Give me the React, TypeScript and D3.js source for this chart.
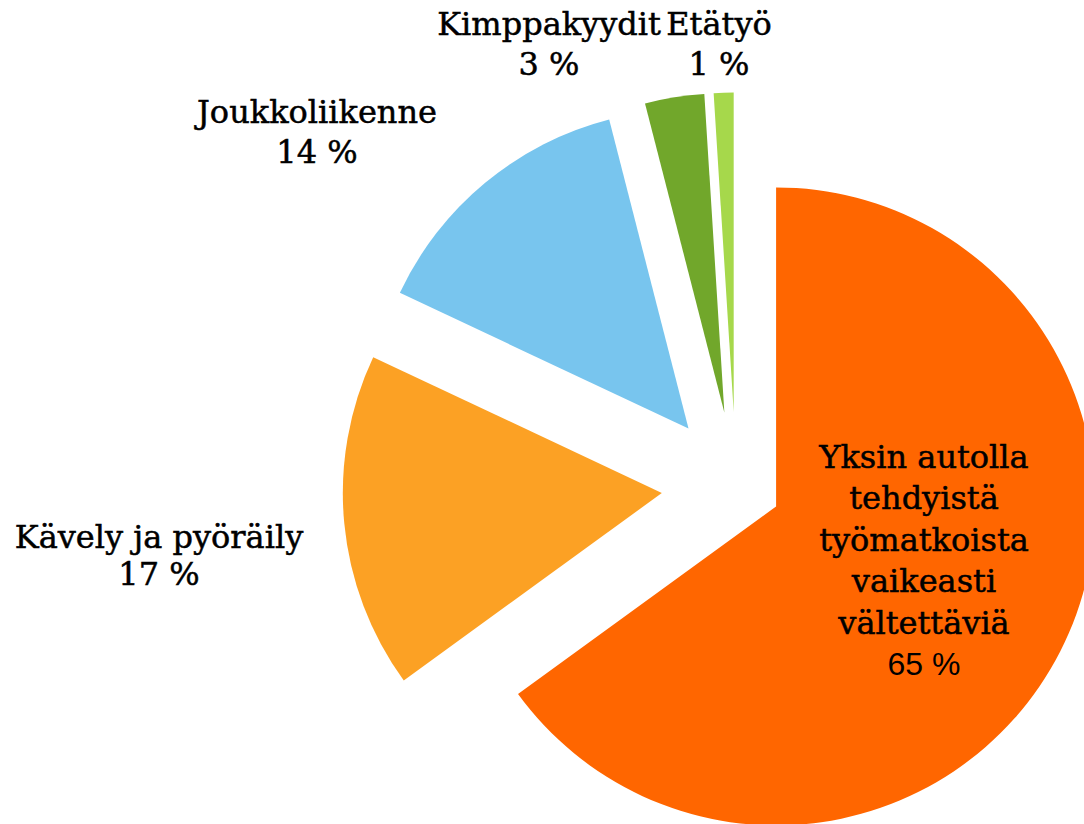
import React, { useRef, useEffect } from 'react';
import * as d3 from 'd3';

// slices, clockwise from 12 o'clock
const categories = ['Yksin autolla tehdyistä työmatkoista vaikeasti vältettäviä', 'Kävely ja pyöräily', 'Joukkoliikenne', 'Kimppakyydit', 'Etätyö'];
const shares = [65, 17, 14, 3, 1];
const labelLines = [
  ['Yksin autolla', 'tehdyistä', 'työmatkoista', 'vaikeasti', 'vältettäviä'],
  ['Kävely ja pyöräily'],
  ['Joukkoliikenne'],
  ['Kimppakyydit'],
  ['Etätyö'],
];

const colors = ['#FF6600', '#FCA124', '#78C5EE', '#71A72B', '#A6D84B'];
const explode = [45, 74.5, 74.5, 74.5, 74.5];
// label centre x, first baseline y, line height
const labelPos = [
  [924, 468, 41.4],
  [159, 548, 37],
  [317, 123, 40],
  [549, 35, 40],
  [719, 35, 40],
];

const W = 1084;
const H = 824;
const cx = 736;
const cy = 486;
const R = 319;

const App = () => {
  const svgRef = useRef<SVGSVGElement>(null);

  useEffect(() => {
    const svg = d3.select(svgRef.current);
    svg.selectAll('*').remove();

    const pie = d3.pie<number>().sort(null).value(d => d);
    const arcs = pie(shares);
    const arc = d3.arc<d3.PieArcDatum<number>>().innerRadius(0).outerRadius(R);

    const g = svg.append('g').attr('transform', `translate(${cx},${cy})`);

    g.selectAll('path')
      .data(arcs)
      .join('path')
      .attr('d', arc)
      .attr('fill', (d, i) => colors[i])
      .attr('transform', (d, i) => {
        const a = (d.startAngle + d.endAngle) / 2;
        return `translate(${Math.sin(a) * explode[i]},${-Math.cos(a) * explode[i]})`;
      });

    // labels
    arcs.forEach((d, i) => {
      const [x, y, lh] = labelPos[i];
      const lines = labelLines[i];
      const t = svg.append('text')
        .attr('text-anchor', 'middle')
        .attr('font-family', '"DejaVu Serif", serif')
        .attr('font-size', 32)
        .attr('fill', '#000')
        .attr('stroke', '#000')
        .attr('stroke-width', 0.5);
      lines.forEach((line, k) => {
        t.append('tspan').attr('x', x).attr('y', y + k * lh).text(line);
      });
      // the big slice's percentage is set in a sans face
      t.append('tspan')
        .attr('x', x)
        .attr('y', y + lines.length * lh)
        .attr('font-family', i === 0 ? '"Liberation Sans", Arial, sans-serif' : null)
        .attr('stroke-width', i === 0 ? 0 : null)
        .text(`${shares[i]} %`);
    });
  }, []);

  return (
    <svg
      ref={svgRef}
      width={W}
      height={H}
      style={{ position: 'absolute', left: 0, top: 0, background: '#fff' }}
    />
  );
};

export default App;
